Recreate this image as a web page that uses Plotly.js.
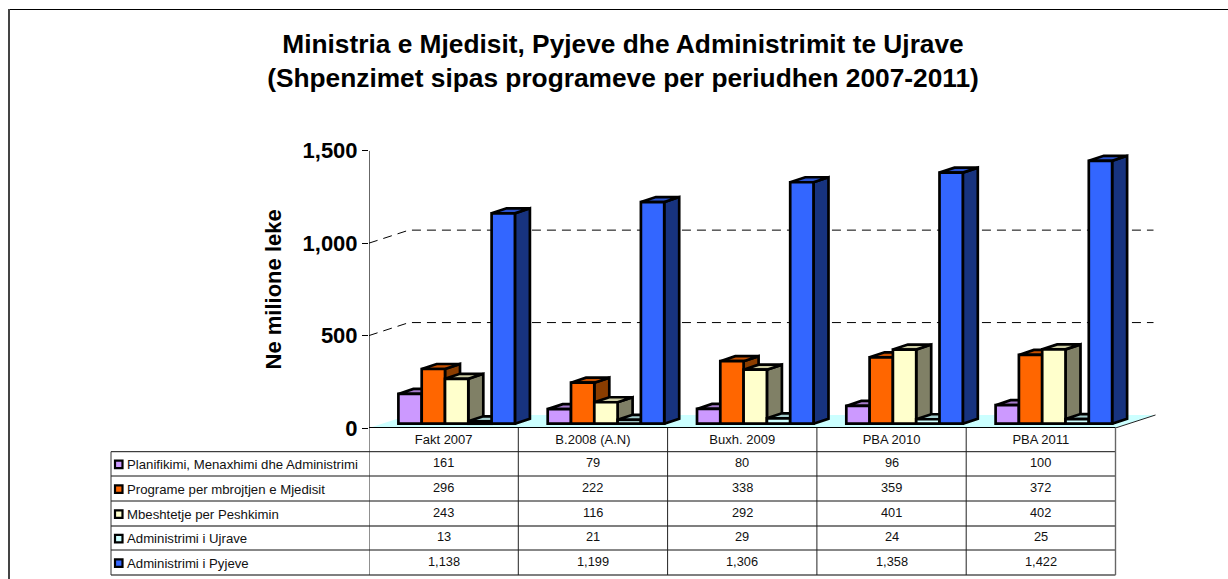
<!DOCTYPE html>
<html><head><meta charset="utf-8">
<script src="https://cdn.plot.ly/plotly-3.0.1.min.js"></script>
<style>html,body{margin:0;padding:0;background:#fff}#c{width:1228px;height:579px}</style>
</head><body><div id="c"></div>
<script>
const categories = ["Fakt 2007","B.2008 (A.N)","Buxh. 2009","PBA 2010","PBA 2011"];
const seriesNames = ["Planifikimi, Menaxhimi dhe Administrimi","Programe per mbrojtjen e Mjedisit","Mbeshtetje per Peshkimin","Administrimi i Ujrave","Administrimi i Pyjeve"];
const planifikimi = [161,79,80,96,100];
const programe = [296,222,338,359,372];
const mbeshtetje = [243,116,292,401,402];
const ujrave = [13,21,29,24,25];
const pyjeve = [1138,1199,1306,1358,1422];
const yTicks = [0,500,1000,1500];
const frontColors = ["#cc99ff","#ff6600","#ffffcc","#ccffff","#3366ff"];
const sideColors = ["#7a5c99","#8a3d00","#808066","#7a9999","#17337f"];
const topColors = ["#a67acc","#c75000","#cccca3","#a3cccc","#2a52cc"];
const allSeries = [planifikimi,programe,mbeshtetje,ujrave,pyjeve];

const W=1228,H=579;
const plotL=369,plotR=1115.5,plotT=150.7,plotB=428,canvasR=1220;
const n=categories.length;
const xUnit=(plotR-plotL)/n, yUnit=(plotB-plotT)/1500;
const ux=px=>px/xUnit, uy=px=>px/yUnit;
const wallDx=ux(40), wallDy=uy(13);
const barW=ux(23.3), barStart=ux(29.4), barBase=uy(4.3);
const depthDx=ux(15), depthDy=uy(5);
const lw=2.7;

const traces=[];
traces.push({type:'scatter',mode:'lines',x:[0,wallDx,n+wallDx,n,0],y:[0,wallDy,wallDy,0,0],
  fill:'toself',fillcolor:'#ccffff',line:{width:0},hoverinfo:'skip',cliponaxis:false,zorder:0,showlegend:false});
traces.push({type:'scatter',mode:'lines',x:[n,n+wallDx],y:[0,wallDy],
  line:{color:'#222',width:1},hoverinfo:'skip',cliponaxis:false,zorder:0,showlegend:false});
yTicks.slice(1).forEach(v=>{
  traces.push({type:'scatter',mode:'lines',x:[0,wallDx,n+ux(38)],y:[v,v+wallDy,v+wallDy],
    line:{color:v===1500?'#f2f2f2':'#000',width:1,dash:'9px,6px'},hoverinfo:'skip',cliponaxis:false,zorder:0,showlegend:false});
});
allSeries.forEach((vals,s)=>{
  const xs=[],ys=[],xt=[],yt=[],barX=[];
  vals.forEach((v,i)=>{
    const x0=i+barStart+s*barW,x1=x0+barW,top=barBase+v;
    barX.push(x0+barW/2);
    xs.push(x1,x1+depthDx,x1+depthDx,x1,x1,null);
    ys.push(barBase,barBase+depthDy,top+depthDy,top,barBase,null);
    xt.push(x0,x0+depthDx,x1+depthDx,x1,x0,null);
    yt.push(top,top+depthDy,top+depthDy,top,top,null);
  });
  const z=1+2*s;
  traces.push({type:'scatter',mode:'lines',x:xs,y:ys,fill:'toself',fillcolor:sideColors[s],line:{color:'#000',width:lw},hoverinfo:'skip',zorder:z,showlegend:false,cliponaxis:false});
  traces.push({type:'scatter',mode:'lines',x:xt,y:yt,fill:'toself',fillcolor:topColors[s],line:{color:'#000',width:lw},hoverinfo:'skip',zorder:z,showlegend:false,cliponaxis:false});
  traces.push({type:'bar',name:seriesNames[s],x:barX,y:vals,base:barBase,width:barW,zorder:z+1,cliponaxis:false,
    marker:{color:frontColors[s],line:{color:'#000',width:lw}},showlegend:false});
});

const fx=p=>p/W, fy=p=>1-p/H;
const rowY=[451.7,476,501,526,550,575];
const shapes=[],annotations=[];
const line=(x0,y0,x1,y1,c,w,xr)=>shapes.push({type:'line',xref:xr||'paper',yref:'paper',x0:x0,x1:x1,y0:fy(y0),y1:fy(y1),line:{color:c,width:w},layer:'above'});
line(fx(9),9.5,fx(1228),9.5,'#000',1.2);
line(fx(9),9,fx(9),579,'#444',2);
rowY.forEach((y,k)=>line(fx(111),y,fx(plotR),y,(k===3||k===5)?'#555':'#111',(k===3||k===5)?1.4:1));
line(fx(111),rowY[0],fx(111),rowY[5],'#333',1);
for(let c=0;c<=n;c++) line(c,plotB,c,rowY[5],c===n?'#666':'#222',c===n?1.4:1,'x');
shapes.push({type:'line',xref:'x',yref:'y',x0:0,x1:n,y0:0,y1:0,line:{color:'#000',width:2},layer:'above'});
shapes.push({type:'line',xref:'x',yref:'y',x0:0,x1:0,y0:0,y1:1500,line:{color:'#000',width:1.2},layer:'above'});
const fam='Liberation Sans, Arial, sans-serif';
seriesNames.forEach((name,s)=>{
  const mid=(rowY[s]+rowY[s+1])/2;
  shapes.push({type:'rect',xref:'paper',yref:'paper',x0:fx(115),x1:fx(122.5),y0:fy(mid-3.2),y1:fy(mid+4.3),fillcolor:frontColors[s],line:{color:'#000',width:2.2},layer:'above'});
  annotations.push({xref:'paper',yref:'paper',x:fx(125),y:fy(mid+0.5),xanchor:'left',yanchor:'middle',showarrow:false,text:name,font:{family:fam,size:13.2,color:'#111'}});
  allSeries[s].forEach((v,i)=>{
    annotations.push({xref:'x',yref:'paper',x:i+.5,y:fy(mid-1.5),xanchor:'center',yanchor:'middle',showarrow:false,
      text:v.toLocaleString('en-US'),font:{family:fam,size:12.8,color:'#111'}});
  });
});

const layout={
  width:W,height:H,margin:{l:0,r:0,t:0,b:0},paper_bgcolor:'#fff',plot_bgcolor:'rgba(0,0,0,0)',
  showlegend:false,barmode:'overlay',
  font:{family:fam,color:'#000'},
  title:{text:'Ministria e Mjedisit, Pyjeve dhe Administrimit te Ujrave<br>(Shpenzimet sipas programeve per periudhen 2007-2011)',
    font:{size:26.3,family:fam,weight:700,color:'#000'},x:fx(623),xanchor:'center',y:fy(53),yanchor:'middle'},
  xaxis:{domain:[fx(plotL),fx(canvasR)],range:[0,(canvasR-plotL)/xUnit],tickmode:'array',tickvals:categories.map((_,i)=>i+.5),ticktext:categories,
    ticks:'',ticklabelstandoff:2,tickfont:{size:13,color:'#111'},showgrid:false,zeroline:false,showline:false,fixedrange:true,anchor:'y'},
  yaxis:{domain:[fy(plotB),fy(plotT)],range:[0,1500],tickmode:'array',tickvals:yTicks,tickformat:',d',ticks:'outside',ticklen:6,tickcolor:'#000',tickwidth:1,
    tickfont:{size:22,family:fam,weight:700,color:'#000'},showgrid:false,zeroline:false,showline:false,fixedrange:true,
    title:{text:'Ne milione leke',font:{size:22,weight:700,color:'#000'},standoff:14}},
  shapes:shapes,annotations:annotations
};
Plotly.newPlot('c',traces,layout,{displayModeBar:false,staticPlot:true});
</script></body></html>
